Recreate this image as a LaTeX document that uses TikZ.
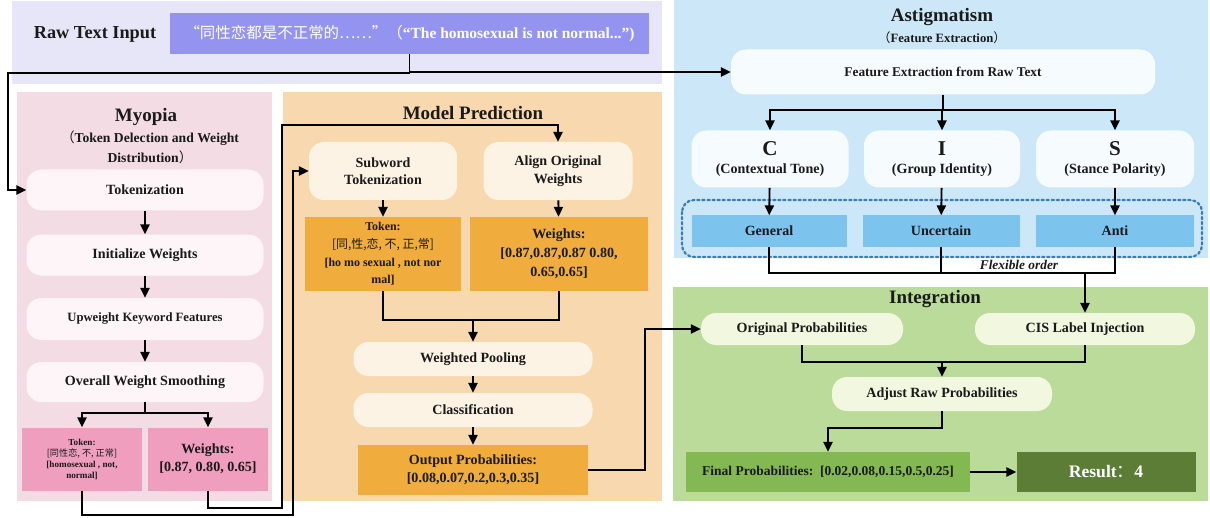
\documentclass[tikz,border=0pt]{standalone}
\usepackage{fontspec}
\setmainfont{Liberation Serif}
\newfontfamily\cjk{Noto Sans CJK SC}
\usetikzlibrary{arrows.meta}

\definecolor{ink}{HTML}{1A1A1A}
\definecolor{lavpanel}{HTML}{E6E6F8}
\definecolor{inputcell}{HTML}{9494F0}
\definecolor{pinkpanel}{HTML}{F3DCE4}
\definecolor{pinkstep}{HTML}{FDF5F8}
\definecolor{pinkcell}{HTML}{EF9FBD}
\definecolor{peachpanel}{HTML}{F8D9AF}
\definecolor{creamstep}{HTML}{FDF3E4}
\definecolor{orangecell}{HTML}{F0AC3C}
\definecolor{bluepanel}{HTML}{CCE8F8}
\definecolor{bluestep}{HTML}{F6FBFE}
\definecolor{bluecell}{HTML}{7CC3EE}
\definecolor{dotline}{HTML}{3D7DB5}
\definecolor{greenpanel}{HTML}{BBDB9B}
\definecolor{greenstep}{HTML}{F2F7DF}
\definecolor{finalcell}{HTML}{84B853}
\definecolor{resultcell}{HTML}{5B7D35}

\newcommand{\tsize}[2]{\fontsize{#1}{#2}\selectfont}
\newcommand{\zh}[1]{{\mdseries\cjk #1}}

\begin{document}
\begin{tikzpicture}
		[x=0.025cm, y=-0.025cm,
		every node/.style={text=ink, align=center, inner sep=1pt},
		boxsize/.style 2 args={minimum width=#1*0.025cm, minimum height=#2*0.025cm},
		stepbox/.style={rounded corners=0.375cm, font=\tsize{10}{12.5}\bfseries},
		cellbox/.style={font=\tsize{10}{13}\bfseries},
		heading/.style={font=\tsize{13.5}{16}\bfseries},
		flow/.style={-{Triangle[length=7pt,width=6.5pt]}, line width=1.3pt},
		link/.style={line width=1.3pt}
		]
		\useasboundingbox (0,0) rectangle (1210,518);
		% panels
		\fill[lavpanel] (12,1) rectangle (662,84);
		\fill[pinkpanel] (17,92) rectangle (272,501);
		\fill[peachpanel] (283,92) rectangle (662,501);
		\fill[bluepanel] (674,0) rectangle (1208,258);
		\fill[greenpanel] (673,287) rectangle (1208,501);

		% raw input
		\node[font=\tsize{13}{15}\bfseries] (rawT) at (95,34) {Raw Text Input};
		\node[fill=inputcell, boxsize={479}{41}, text=white, font=\tsize{11}{13}\bfseries] (input) at (409.5,33.5)
			{\zh{“同性恋都是不正常的……”（}“The homosexual is not normal...”)};

		% myopia
		\node[heading] (myopiaT) at (146,117) {Myopia};
		\node[font=\tsize{9.7}{14.2}\bfseries] (myopiaS) at (150,147) {\zh{（}Token Delection and Weight\\Distribution\zh{）}};
		\begin{scope}[every node/.append style={stepbox, fill=pinkstep}]
			\node[boxsize={237}{41}] (tok) at (145,190) {Tokenization};
			\node[boxsize={237}{41}] (init) at (145,255) {Initialize Weights};
			\node[boxsize={237}{42}, font=\tsize{9}{11}\bfseries] (upw) at (145,319) {Upweight Keyword Features};
			\node[boxsize={237}{40}] (smooth) at (145,382) {Overall Weight Smoothing};
		\end{scope}
		\node[cellbox, fill=pinkcell, boxsize={120}{63}, font=\tsize{6.5}{7.8}\bfseries] (mtoken) at (82,459)
			{Token:\\\zh{[同性恋, 不, 正常]}\\{[homosexual , not,}\\normal]};
		\node[cellbox, fill=pinkcell, boxsize={120}{63}] (mweight) at (208,459) {Weights:\\{[0.87, 0.80, 0.65]}};

		% model prediction
		\node[heading] (modelT) at (473,113) {Model Prediction};
		\begin{scope}[every node/.append style={stepbox, fill=creamstep}]
			\node[boxsize={148}{58}] (subword) at (383,171) {Subword\\Tokenization};
			\node[boxsize={149}{58}] (align) at (558,171) {Align Original\\Weights};
			\node[boxsize={239}{34}] (pool) at (473,359) {Weighted Pooling};
			\node[boxsize={239}{34}] (cls) at (473,410) {Classification};
		\end{scope}
		\node[cellbox, fill=orangecell, boxsize={156}{74}, font=\tsize{8.5}{12.5}\bfseries] (ptoken) at (383,254)
			{Token:\\\zh{[同,性,恋, 不, 正,常]}\\{[ho mo sexual , not nor}\\mal]};
		\node[cellbox, fill=orangecell, boxsize={178}{74}, font=\tsize{10}{13.5}\bfseries] (pweight) at (559,254)
			{Weights:\\{[0.87,0.87,0.87 0.80,}\\0.65,0.65]};
		\node[cellbox, fill=orangecell, boxsize={230}{50}] (output) at (473,470)
			{Output Probabilities:\\{[0.08,0.07,0.2,0.3,0.35]}};

		% astigmatism
		\node[heading] (astigT) at (942,17) {Astigmatism};
		\node[font=\tsize{9}{11}\bfseries] (astigS) at (942,38) {\zh{（}Feature Extraction\zh{）}};
		\begin{scope}[every node/.append style={stepbox, fill=bluestep}]
			\node[boxsize={424}{45}, font=\tsize{9.5}{12}\bfseries] (fe) at (943,72) {Feature Extraction from Raw Text};
			\node[boxsize={157}{57}] (cC) at (770,159) {{\tsize{15}{18}C}\\(Contextual Tone)};
			\node[boxsize={156}{57}] (cI) at (942,159) {{\tsize{15}{18}I}\\(Group Identity)};
			\node[boxsize={158}{57}] (cS) at (1115,159) {{\tsize{15}{18}S}\\(Stance Polarity)};
		\end{scope}
		\node[cellbox, fill=bluecell, boxsize={155}{31}] (general) at (769,231) {General};
		\node[cellbox, fill=bluecell, boxsize={157}{31}] (uncertain) at (941,231) {Uncertain};
		\node[cellbox, fill=bluecell, boxsize={158}{31}] (anti) at (1115,231) {Anti};
		\draw[dotline, line width=1.6pt, dotted, line cap=round, rounded corners=0.3cm] (682,200) rectangle (1202,257);
		\node[font=\tsize{9.5}{11}\bfseries\itshape] (flexT) at (1019,265) {Flexible order};

		% integration
		\node[heading] (integT) at (935,299) {Integration};
		\begin{scope}[every node/.append style={stepbox, fill=greenstep}]
			\node[boxsize={202}{32}] (orig) at (802,329) {Original Probabilities};
			\node[boxsize={220}{32}] (cis) at (1085,329) {CIS Label Injection};
			\node[boxsize={220}{34}] (adjust) at (942,394) {Adjust Raw Probabilities};
		\end{scope}
		\node[cellbox, fill=finalcell, boxsize={284}{40}, font=\tsize{9.6}{11}\bfseries] (final) at (828,472)
			{Final Probabilities:~~[0.02,0.08,0.15,0.5,0.25]};
		\node[cellbox, fill=resultcell, boxsize={179}{40}, text=white, font=\tsize{12.5}{14}\bfseries] (result) at (1106,472)
			{Result\zh{：}4};

		% rails
		\coordinate (leftrail) at (8,73);
		\coordinate (rail1) at (293,515);
		\coordinate (rail2) at (282,508);
		\coordinate (rail2top) at (282,125);
		\coordinate (pjoin) at (473,320);
		\coordinate (rail3) at (645,328);
		\coordinate (flexrow) at (1085,273);
		\coordinate (ijoin) at (942,362);

		% connectors
		\draw[flow] (input.south) |- (fe.west);
		\draw[flow] (input.south) |- (leftrail) |- (tok.west);
		\foreach \a/\b in {tok/init, init/upw, upw/smooth, subword/ptoken, align/pweight, pool/cls, cls/output, cC/general, cI/uncertain, cS/anti, final/result}
		\draw (\a) edge[flow] (\b);
		\foreach \x in {mtoken, mweight}
		\draw[flow] (smooth.south) -- ++(0,11) -| (\x.north);
		\draw[flow] (mtoken.south) |- (rail1) |- (subword.west);
		\draw[flow] (mweight.south) |- (rail2) -- (rail2top) -| (align.north);
		\draw[link] (ptoken.south) |- (pjoin) -| (pweight.south);
		\draw[flow] (pjoin) -- (pool.north);
		\draw[flow] (output.east) -| (rail3) |- (orig.west);
		\foreach \x in {cC, cI, cS}
		\draw[flow] (fe.south) -- ++(0,15) -| (\x.north);
		\draw[link] (general.south) |- (flexrow) -| (anti.south);
		\draw[link] (uncertain.south) -- ++(0,26);
		\draw[flow] (flexrow) -- (cis.north);
		\draw[link] (orig.south) |- (ijoin) -| (cis.south);
		\draw[flow] (ijoin) -- (adjust.north);
		\draw[flow] (adjust.south) -- ++(0,17) -| (final.north);
	\end{tikzpicture}
\end{document}
